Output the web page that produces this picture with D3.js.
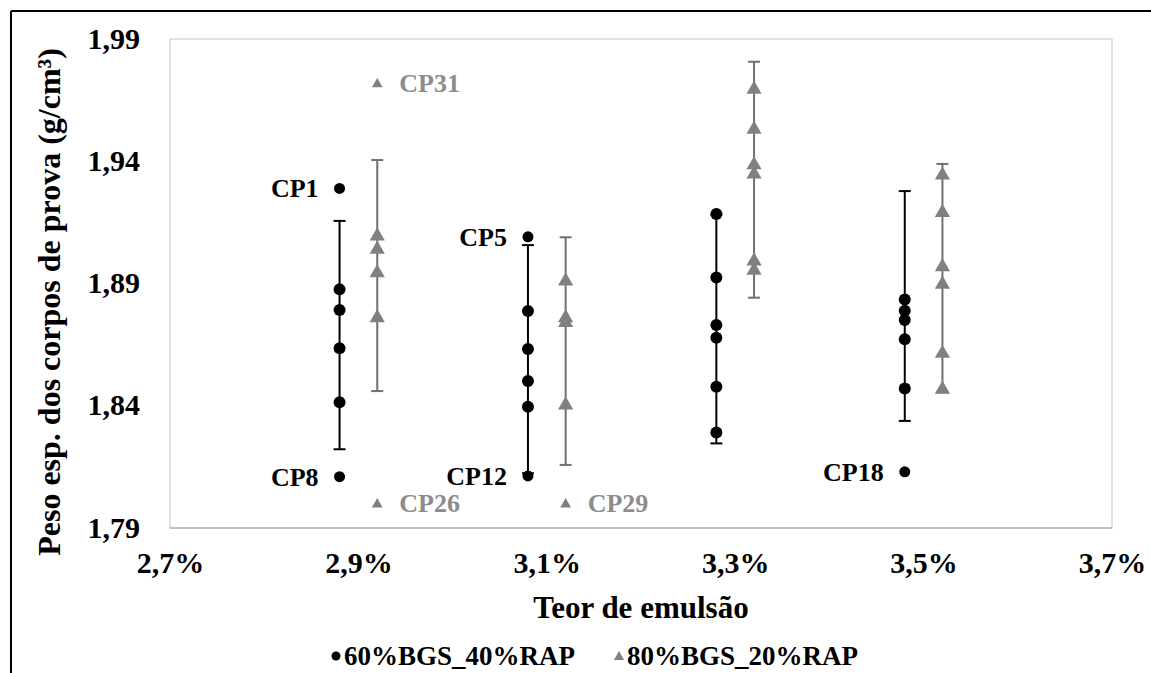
<!DOCTYPE html>
<html>
<head>
<meta charset="utf-8">
<script src="https://cdn.jsdelivr.net/npm/d3@7"></script>
<style>
    body { margin: 0; background: #fff; }
    svg text { font-family: "Liberation Serif", "Times New Roman", serif; font-weight: bold; }
</style>
</head>
<body>
<div id="chart"></div>
<script>
// emulsion content (x categories) and axis ticks
const emulsion = [0.029, 0.031, 0.033, 0.035];
const xTicks = [0.027, 0.029, 0.031, 0.033, 0.035, 0.037];
const yTicks = [1.79, 1.84, 1.89, 1.94, 1.99];

// 60%BGS_40%RAP : specimens per emulsion content
const valuesA = [
    [1.8876, 1.8792, 1.8635, 1.8414],
    [1.8788, 1.8632, 1.8501, 1.8396],
    [1.9184, 1.8925, 1.8730, 1.8678, 1.8478, 1.8291],
    [1.8835, 1.8789, 1.8751, 1.8672, 1.8471]
];
// error bars (low, high)
const errA = [[1.8222, 1.9156], [1.8124, 1.9057], [1.8246, 1.9182], [1.8338, 1.9278]];
// labelled specimens
const outA = [
    { name: "CP1", x: 0.029, y: 1.9289 },
    { name: "CP8", x: 0.029, y: 1.8110 },
    { name: "CP5", x: 0.031, y: 1.9091 },
    { name: "CP12", x: 0.031, y: 1.8113 },
    { name: "CP18", x: 0.035, y: 1.8130 }
];

// 80%BGS_20%RAP
const valuesB = [
    [1.9098, 1.9044, 1.8948, 1.8764],
    [1.8914, 1.8764, 1.8744, 1.8407],
    [1.9698, 1.9535, 1.9389, 1.9351, 1.8996, 1.8958],
    [1.9347, 1.9194, 1.8972, 1.8901, 1.8618, 1.8471]
];
const errB = [[1.8460, 1.9405], [1.8158, 1.9089], [1.8842, 1.9807], [1.8455, 1.9389]];
const outB = [
    { name: "CP31", x: 0.029, y: 1.9719 },
    { name: "CP26", x: 0.029, y: 1.8001 },
    { name: "CP29", x: 0.031, y: 1.8001 }
];

const seriesNames = ["60%BGS_40%RAP", "80%BGS_20%RAP"];
const black = "#000";
const grey = "#808080";
const greyText = "#8c8c8c";
const offset = 0.0002;

const W = 1151, H = 673;
const plot = { left: 170, right: 1112, top: 39, bottom: 528 };

const x = d3.scaleLinear().domain([0.027, 0.037]).range([plot.left, plot.right]);
const y = d3.scaleLinear().domain([1.79, 1.99]).range([plot.bottom, plot.top]);

const svg = d3.select("#chart").append("svg")
    .attr("width", W)
    .attr("height", H);

svg.append("rect").attr("width", W).attr("height", H).attr("fill", "#fff");

// outer frame (top and left only)
svg.append("line").attr("x1", 11).attr("x2", W).attr("y1", 11).attr("y2", 11)
    .attr("stroke", "#000").attr("stroke-width", 2);
svg.append("line").attr("x1", 11).attr("x2", 11).attr("y1", 11).attr("y2", H)
    .attr("stroke", "#000").attr("stroke-width", 2);

// plot area
svg.append("rect")
    .attr("x", plot.left).attr("y", plot.top)
    .attr("width", plot.right - plot.left).attr("height", plot.bottom - plot.top)
    .attr("fill", "none").attr("stroke", "#d9d9d9").attr("stroke-width", 1.5);
svg.append("line")
    .attr("x1", plot.left).attr("x2", plot.right)
    .attr("y1", plot.bottom).attr("y2", plot.bottom)
    .attr("stroke", "#bfbfbf").attr("stroke-width", 2);

// axes
const fmtComma = d => d3.format(".2f")(d).replace(".", ",");
const fmtPct = d => d3.format(".1%")(d).replace(".", ",");

const yAxis = svg.append("g")
    .attr("transform", `translate(${plot.left},0)`)
    .call(d3.axisLeft(y).tickValues(yTicks).tickFormat(fmtComma).tickSize(0).tickPadding(30));
yAxis.select(".domain").remove();
yAxis.selectAll("text").attr("font-size", 30).attr("fill", "#000")
    .attr("font-family", "Liberation Serif, serif").attr("dy", "0.3em");

const xAxis = svg.append("g")
    .attr("transform", `translate(0,${plot.bottom})`)
    .call(d3.axisBottom(x).tickValues(xTicks).tickFormat(fmtPct).tickSize(0).tickPadding(24));
xAxis.select(".domain").remove();
xAxis.selectAll("text").attr("font-size", 30).attr("fill", "#000")
    .attr("font-family", "Liberation Serif, serif");

// axis titles
svg.append("text")
    .attr("x", (plot.left + plot.right) / 2)
    .attr("y", 618)
    .attr("text-anchor", "middle")
    .attr("font-size", 31)
    .text("Teor de emulsão");

svg.append("text")
    .attr("transform", `translate(60,${302}) rotate(-90)`)
    .attr("text-anchor", "middle")
    .attr("font-size", 32)
    .text("Peso esp. dos corpos de prova (g/cm³)");

// error bars
function drawErr(errs, dx, color) {
    const g = svg.append("g");
    errs.forEach((e, i) => {
        const cx = x(emulsion[i] + dx);
        g.append("line").attr("x1", cx).attr("x2", cx)
            .attr("y1", y(e[0])).attr("y2", y(e[1]))
            .attr("stroke", color).attr("stroke-width", 2);
        e.forEach(v => {
            g.append("line").attr("x1", cx - 6).attr("x2", cx + 6)
                .attr("y1", y(v)).attr("y2", y(v))
                .attr("stroke", color).attr("stroke-width", 2);
        });
    });
}
drawErr(errA, -offset, black);
drawErr(errB, offset, "#707070");

// points
const ptsA = valuesA.flatMap((vals, i) => vals.map(v => ({ x: emulsion[i] - offset, y: v })));
const ptsB = valuesB.flatMap((vals, i) => vals.map(v => ({ x: emulsion[i] + offset, y: v })));

svg.selectAll(".dotA")
    .data(ptsA)
    .enter()
    .append("circle")
    .attr("class", "dotA")
    .attr("cx", d => x(d.x))
    .attr("cy", d => y(d.y))
    .attr("r", 6)
    .attr("fill", black);

const tri = d3.symbol().type(d3.symbolTriangle);

svg.selectAll(".triB")
    .data(ptsB)
    .enter()
    .append("path")
    .attr("class", "triB")
    .attr("transform", d => `translate(${x(d.x)},${y(d.y) + 1})`)
    .attr("d", tri.size(100)())
    .attr("fill", grey);

// labelled specimens
svg.selectAll(".outA")
    .data(outA)
    .enter()
    .append("circle")
    .attr("class", "outA")
    .attr("cx", d => x(d.x - offset))
    .attr("cy", d => y(d.y))
    .attr("r", 5.5)
    .attr("fill", black);

svg.selectAll(".outAlabel")
    .data(outA)
    .enter()
    .append("text")
    .attr("class", "outAlabel")
    .attr("x", d => x(d.x - offset) - 21)
    .attr("y", d => y(d.y))
    .attr("dy", "0.35em")
    .attr("text-anchor", "end")
    .attr("font-size", 26)
    .attr("fill", black)
    .text(d => d.name);

svg.selectAll(".outB")
    .data(outB)
    .enter()
    .append("path")
    .attr("class", "outB")
    .attr("transform", d => `translate(${x(d.x + offset)},${y(d.y) + 1})`)
    .attr("d", tri.size(50)())
    .attr("fill", grey);

svg.selectAll(".outBlabel")
    .data(outB)
    .enter()
    .append("text")
    .attr("class", "outBlabel")
    .attr("x", d => x(d.x + offset) + 22)
    .attr("y", d => y(d.y))
    .attr("dy", "0.35em")
    .attr("font-size", 26)
    .attr("fill", greyText)
    .text(d => d.name);

// legend
const legend = svg.append("g").attr("transform", "translate(0,656)");
legend.append("circle").attr("cx", 336).attr("cy", 0).attr("r", 4.5).attr("fill", black);
legend.append("text").attr("x", 344).attr("y", 0).attr("dy", "0.35em")
    .attr("font-size", 27).text(seriesNames[0]);
legend.append("path").attr("transform", "translate(619,1)")
    .attr("d", tri.size(45)()).attr("fill", grey);
legend.append("text").attr("x", 627).attr("y", 0).attr("dy", "0.35em")
    .attr("font-size", 27).text(seriesNames[1]);
</script>
</body>
</html>
